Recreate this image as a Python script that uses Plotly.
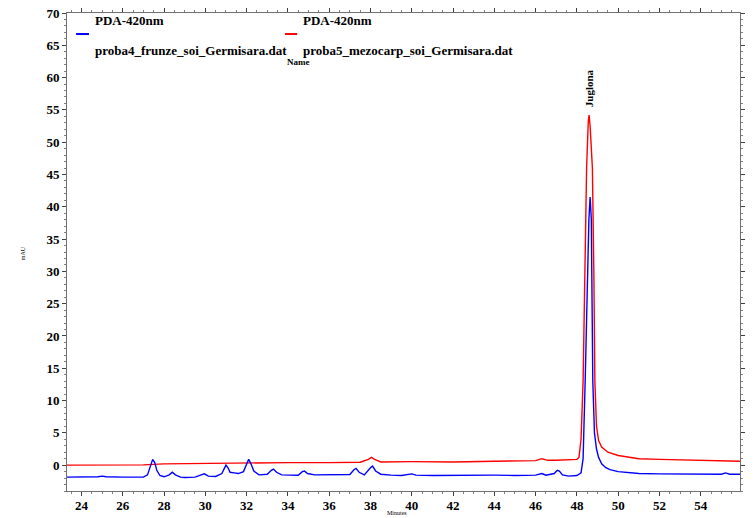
import plotly.graph_objects as go

# Blue trace: proba4_frunze_soi_Germisara.dat (PDA-420nm)
blue_t = [23.3, 24.0, 24.8, 25.0, 25.2, 26.0, 27.0, 27.2, 27.3, 27.4, 27.45, 27.55, 27.65, 27.8, 28.0,
          28.25, 28.4, 28.55, 28.8, 29.0, 29.5, 29.8, 29.95, 30.15, 30.5, 30.8, 30.95, 31.0, 31.1, 31.2,
          31.4, 31.6, 31.85, 32.0, 32.1, 32.2, 32.35, 32.6, 33.0, 33.2, 33.3, 33.45, 33.7, 34.5, 34.7,
          34.8, 34.95, 35.3, 36.0, 37.0, 37.2, 37.3, 37.45, 37.7, 38.0, 38.1, 38.25, 38.5, 39.0, 39.5,
          40.0, 40.2, 41.0, 42.0, 43.0, 44.0, 45.0, 46.0, 46.3, 46.5, 46.9, 47.05, 47.15, 47.3, 47.6,
          48.0, 48.2, 48.3, 48.4, 48.5, 48.58, 48.64, 48.7, 48.72, 48.77, 48.85, 48.95, 49.05, 49.2,
          49.4, 49.6, 50.0, 50.5, 51.0, 52.0, 53.0, 54.0, 55.0, 55.2, 55.4, 55.9]
blue_mAU = [-1.85, -1.85, -1.8, -1.7, -1.8, -1.85, -1.85, -1.5, -0.6, 0.6, 0.9, 0.4, -0.8, -1.6, -1.8,
            -1.5, -1.1, -1.5, -1.85, -1.9, -1.85, -1.5, -1.35, -1.7, -1.75, -1.3, -0.3, 0.0, -0.4, -1.1,
            -1.2, -1.3, -1.0, 0.3, 0.9, 0.3, -0.9, -1.5, -1.4, -0.8, -0.6, -1.1, -1.5, -1.55, -1.0,
            -0.9, -1.3, -1.5, -1.45, -1.45, -0.7, -0.5, -1.1, -1.5, -0.4, -0.15, -0.9, -1.4, -1.55, -1.6,
            -1.35, -1.55, -1.6, -1.55, -1.6, -1.55, -1.6, -1.55, -1.3, -1.55, -1.3, -0.8, -0.9, -1.5, -1.7,
            -1.6, -1.2, 1.0, 13.0, 28.0, 38.0, 41.5, 38.0, 30.0, 13.0, 5.0, 2.5, 1.2, 0.2,
            -0.4, -0.7, -1.0, -1.2, -1.3, -1.35, -1.4, -1.4, -1.4, -1.2, -1.4, -1.4]

# Red trace: proba5_mezocarp_soi_Germisara.dat (PDA-420nm)
red_t = [23.3, 25.0, 27.0, 28.0, 30.0, 32.0, 34.0, 36.0, 37.5, 37.9, 38.05, 38.2, 38.5, 40.0, 42.0,
         44.0, 46.0, 46.3, 46.6, 47.0, 47.5, 48.0, 48.1, 48.2, 48.3, 48.4, 48.47, 48.55, 48.59, 48.64,
         48.75, 48.82, 48.87, 48.95, 49.05, 49.2, 49.5, 50.0, 50.5, 51.0, 52.0, 53.0, 54.0, 55.0, 55.9]
red_mAU = [0.0, 0.0, 0.05, 0.2, 0.3, 0.35, 0.4, 0.4, 0.45, 0.9, 1.2, 0.9, 0.5, 0.55, 0.5,
           0.6, 0.7, 1.0, 0.75, 0.75, 0.8, 0.9, 1.2, 4.0, 13.0, 30.0, 46.0, 53.2, 54.2, 52.5,
           46.0, 30.0, 13.0, 6.0, 3.8, 2.8, 2.0, 1.5, 1.2, 1.0, 0.9, 0.8, 0.75, 0.7, 0.6]

x_ticks = list(range(24, 56, 2))
y_ticks = list(range(0, 75, 5))
detector = "PDA-420nm"
blue_name = "proba4_frunze_soi_Germisara.dat"
red_name = "proba5_mezocarp_soi_Germisara.dat"
peak_label = "Juglona"
peak_time = 48.6
peak_label_y = 58.4

BLUE = "#0000FF"
RED = "#FF0000"
FONT = "Liberation Serif"

fig = go.Figure()
fig.add_trace(go.Scatter(x=red_t, y=red_mAU, mode="lines", line=dict(color=RED, width=1.4),
                         name=red_name, showlegend=False, hoverinfo="skip"))
fig.add_trace(go.Scatter(x=blue_t, y=blue_mAU, mode="lines", line=dict(color=BLUE, width=1.4),
                         name=blue_name, showlegend=False, hoverinfo="skip"))

axis_common = dict(showgrid=False, zeroline=False, showline=True, linecolor="#707070", linewidth=1,
                   ticks="outside", ticklen=4, tickcolor="#404040", mirror="ticks", automargin=False,
                   ticklabeloverflow="allow",
                   tickfont=dict(family=FONT, size=13, color="black", weight="bold"))

fig.update_xaxes(range=[23.3, 55.9], tickvals=x_ticks, ticklabelstandoff=-2, **axis_common,
                 minor=dict(dtick=0.5, ticks="outside", ticklen=2, tickcolor="#808080"))
fig.update_yaxes(range=[-4.0, 70], tickvals=y_ticks, **axis_common,
                 minor=dict(dtick=1, ticks="outside", ticklen=2, tickcolor="#808080"))

anns = []
def txt(x, y, s, size=13, **kw):
    d = dict(x=x, y=y, xref="paper", yref="paper", text=s, showarrow=False,
             font=dict(family=FONT, size=size, color="black"), xanchor="left", yanchor="middle")
    d.update(kw)
    anns.append(d)

txt(0.039, 0.985, "<b>%s</b>" % detector)
txt(0.039, 0.922, "<b>%s</b>" % blue_name)
txt(0.347, 0.985, "<b>%s</b>" % detector)
txt(0.347, 0.922, "<b>%s</b>" % red_name)
txt(0.324, 0.897, "<b>Name</b>", size=9)
txt(-0.065, 0.498, "mAU", size=6, textangle=-90, xanchor="center")
txt(0.49, -0.0565, "Minutes", size=6, xanchor="center", yanchor="bottom")

anns.append(dict(x=peak_time, y=peak_label_y, xref="x", yref="y", text="<b>%s</b>" % peak_label,
                 showarrow=False, textangle=-90, font=dict(family=FONT, size=11, color="black")))

shapes = [
    dict(type="line", xref="paper", yref="paper", x0=0.0135, x1=0.0327, y0=0.956, y1=0.956,
         line=dict(color=BLUE, width=2)),
    dict(type="line", xref="paper", yref="paper", x0=0.324, x1=0.342, y0=0.956, y1=0.956,
         line=dict(color=RED, width=2)),
]

fig.update_layout(width=756, height=518, margin=dict(l=67, r=16, t=13, b=27),
                  plot_bgcolor="white", paper_bgcolor="white", hovermode=False,
                  annotations=anns, shapes=shapes, showlegend=False)

# remove the browser's default 8px body margin so the figure fills the window exactly
fig.write_html("out.html", config={"displayModeBar": False, "staticPlot": True},
               post_script="document.body.style.margin='0px';document.body.style.overflow='hidden';")
